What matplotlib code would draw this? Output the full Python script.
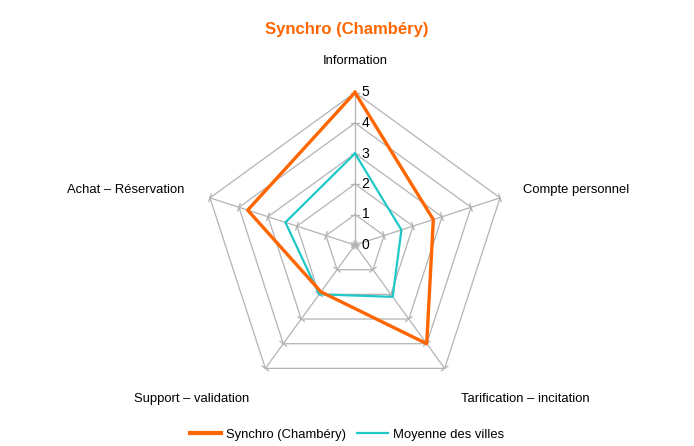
import numpy as np
import matplotlib
matplotlib.use("Agg")
import matplotlib.pyplot as plt

plt.rcParams['font.family'] = ['Liberation Sans', 'DejaVu Sans']

categories = ["Information", "Compte personnel", "Tarification – incitation",
              "Support – validation", "Achat – Réservation"]
synchro = [5, 2.7, 4.0, 1.9, 3.7]
moyenne = [3, 1.6, 2.1, 2.0, 2.4]
ring_levels = [1, 2, 3, 4, 5]
tick_labels = ["0", "1", "2", "3", "4", "5"]

GRAY = "#b3b3b3"
ORANGE = "#ff6600"
CYAN = "#1fc7c7"

# angles: first axis at top, then clockwise
n = len(categories)
angles = np.pi / 2 - np.arange(n) * 2 * np.pi / n


def to_xy(vals):
    vals = np.asarray(vals, dtype=float)
    x = vals * np.cos(angles)
    y = vals * np.sin(angles)
    return np.append(x, x[0]), np.append(y, y[0])


fig = plt.figure(figsize=(6.94, 4.46), dpi=100)
ax = fig.add_axes([0, 0, 1, 1])
unit = 30.5  # pixels per value unit
cx, cy = 355, 245
ax.set_xlim(-cx / unit, (694 - cx) / unit)
ax.set_ylim(-(446 - cy) / unit, cy / unit)
ax.axis("off")

# spokes
for a in angles:
    ax.plot([0, 5 * np.cos(a)], [0, 5 * np.sin(a)], color=GRAY, lw=0.9, zorder=1)

# rings
for lv in ring_levels:
    x, y = to_xy([lv] * n)
    ax.plot(x, y, color=GRAY, lw=0.9, zorder=1)

# small ticks across spokes
tl = 0.13
for a in angles:
    px, py = -np.sin(a), np.cos(a)
    for lv in [0] + ring_levels:
        bx, by = lv * np.cos(a), lv * np.sin(a)
        ax.plot([bx - tl * px, bx + tl * px], [by - tl * py, by + tl * py],
                color=GRAY, lw=0.9, zorder=1)

# value labels on the top axis
for i, t in enumerate(tick_labels):
    ax.text(0.22, i, t, fontsize=10, ha="left", va="center", color="black")

# series
x, y = to_xy(moyenne)
ax.plot(x, y, color=CYAN, lw=1.6, zorder=3, label="Moyenne des villes")
x, y = to_xy(synchro)
ax.plot(x, y, color=ORANGE, lw=2.4, zorder=4, label="Synchro (Chambéry)")

# category labels (radius, ha, va, horizontal nudge in px)
label_pos = [(5.85, "center", "bottom", 0), (5.8, "left", "center", 0),
             (6.25, "left", "center", -6), (6.25, "right", "center", 6),
             (5.85, "right", "center", -1)]
for cat, a, (r, ha, va, dx) in zip(categories, angles, label_pos):
    ax.annotate(cat, (r * np.cos(a), r * np.sin(a)), xytext=(dx * 0.72, 0),
                textcoords="offset points", fontsize=9.4, ha=ha, va=va)

fig.suptitle("Synchro (Chambéry)", color=ORANGE, fontsize=12,
             fontweight="bold", y=0.95)

handles, labels = ax.get_legend_handles_labels()
leg = ax.legend(handles[::-1], labels[::-1], loc="lower center",
                bbox_to_anchor=(0.5, -0.015), ncol=2, frameon=False, fontsize=9.4,
                handlelength=2.4, columnspacing=0.8, handletextpad=0.4)
leg.get_lines()[0].set_linewidth(3)

fig.savefig("out.png", dpi=100)
